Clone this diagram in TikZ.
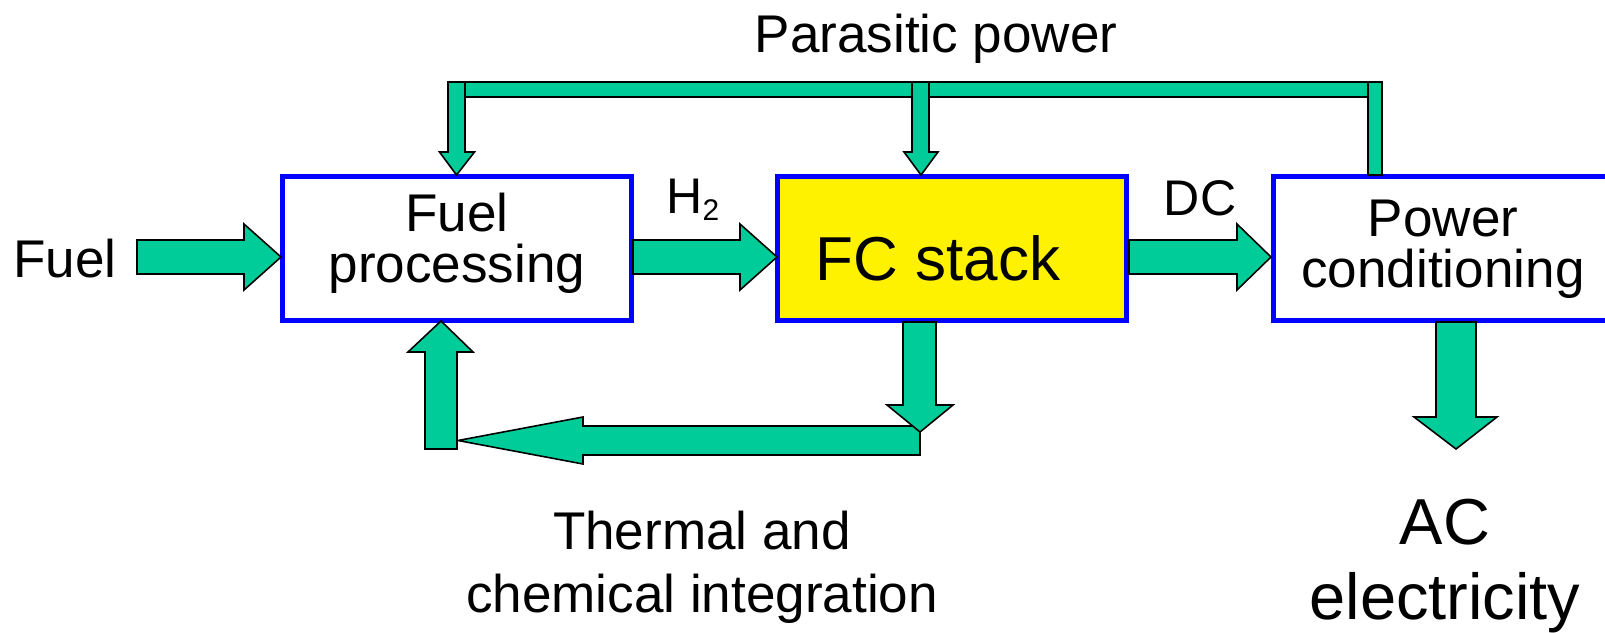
\documentclass[tikz,border=0pt]{standalone}
\usepackage{fontspec}
\setmainfont{Liberation Sans}
\definecolor{flowgreen}{RGB}{0,204,153}
\begin{document}
\begin{tikzpicture}[
  x=0.02cm, y=-0.02cm,
  block/.style={draw=blue, line width=2.85pt, minimum width=6.98cm,
    minimum height=2.88cm, inner sep=0pt},
  flow/.style={draw=black, fill=flowgreen, line width=0.9pt},
  txt/.style={font=\fontsize{30.2}{29}\selectfont, align=center, inner sep=0pt},
  small/.style={font=\fontsize{28.5}{28.5}\selectfont, inner sep=0pt}]
  \useasboundingbox (0,0) rectangle (1605,632);

  % blocks
  \node[block] (fp) at (457,248.5) {};
  \node[block, fill=yellow] (fc) at (952,248.5) {};
  \node[block] (pc) at (1448,248.5) {};

  % parasitic power bus
  \draw[flow] (448,82) rectangle (1382,97);
  \draw[flow] (448,82) -- (465,82) -- (465,152) -- (474.5,152) -- (456.5,175)
    -- (439.5,152) -- (448,152) -- cycle;
  \draw[flow] (912,82) -- (929,82) -- (929,152) -- (938,152) -- (921,175)
    -- (904,152) -- (912,152) -- cycle;
  \draw[flow] (1368,82) rectangle (1382,175);

  % main line
  \draw[flow] (137,240) -- (244,240) -- (244,224) -- (281,257) -- (244,290)
    -- (244,274) -- (137,274) -- cycle;
  \draw[flow] (633,240) -- (740,240) -- (740,224) -- (777,257) -- (740,290)
    -- (740,274) -- (633,274) -- cycle;
  \draw[flow] (1129,240) -- (1237,240) -- (1237,224) -- (1271,257) -- (1237,290)
    -- (1237,274) -- (1129,274) -- cycle;

  % thermal loop
  \draw[flow] (920,426) -- (583,426) -- (583,417) -- (458,440.5) -- (583,464)
    -- (583,455) -- (920,455) -- cycle;
  \draw[flow] (903,322) -- (936,322) -- (936,405) -- (953,405) -- (920,432)
    -- (887,405) -- (903,405) -- cycle;
  \draw[flow] (425,449) -- (425,352) -- (408,352) -- (441,321) -- (473,352)
    -- (457,352) -- (457,449) -- cycle;

  % output
  \draw[flow] (1436,322) -- (1476,322) -- (1476,417) -- (1497,417) -- (1456,449)
    -- (1414,417) -- (1436,417) -- cycle;

  % labels
  \node[txt, anchor=base] (para) at (936,52) {Parasitic power};
  \node[txt, anchor=base] (fuel) at (65,277) {Fuel};
  \node[txt] (fptext) at (457,243.5) {Fuel\\processing};
  \node[txt, anchor=base, font=\fontsize{35.3}{35.3}\selectfont] (fctext) at (938,280) {FC stack};
  \node[txt] (pctext) at (1443,249) {Power\\conditioning};
  \node[small, anchor=base west] (htwo) at (666,213)
    {H\raisebox{-4.5pt}{\fontsize{17}{17}\selectfont 2}};
  \node[small, anchor=base] (dc) at (1200,215) {DC};
  \node[txt, font=\fontsize{30.2}{35.9}\selectfont] (therm) at (702,567.5)
    {Thermal and\\chemical integration};
  \node[txt, font=\fontsize{37}{42.7}\selectfont] (ac) at (1445,566.5)
    {AC\\electricity};
\end{tikzpicture}
\end{document}
